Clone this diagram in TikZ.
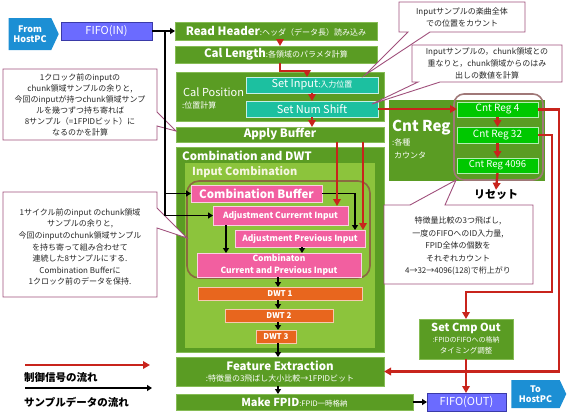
\documentclass[tikz,border=0pt]{standalone}
\usepackage{fontspec}
\setmainfont{Noto Sans CJK JP}
\usetikzlibrary{arrows.meta,shapes.symbols}
\definecolor{mg}{HTML}{5A9C23}
\definecolor{mgb}{HTML}{86BC55}
\definecolor{lg}{HTML}{8CC43C}
\definecolor{teal1}{HTML}{1CC0A0}
\definecolor{pink1}{HTML}{F25FA0}
\definecolor{org}{HTML}{E8661E}
\definecolor{fblue}{HTML}{6B6BFF}
\definecolor{fbord}{HTML}{3A3AA8}
\definecolor{hblue}{HTML}{1C8FD4}
\definecolor{rline}{HTML}{C8241C}
\definecolor{cg}{HTML}{00C800}
\definecolor{mauve}{HTML}{A0507C}
\definecolor{brn}{HTML}{8A6A40}
\definecolor{grpb}{HTML}{A07878}
\definecolor{ictext}{HTML}{F6F6E0}
\newcommand\myfs[2]{\fontsize{#1}{#2}\selectfont}
\tikzset{
 box/.style={anchor=north west, inner sep=0pt, outer sep=0pt, text=white, align=center, line width=0.8pt},
 gbox/.style={box, fill=mg, draw=mgb},
 icbox/.style={box, fill=lg, draw=lg},
 tbox/.style={box, fill=teal1, draw=white!75!teal1},
 pbox/.style={box, fill=pink1, draw=white!70!pink1},
 obox/.style={box, fill=org, draw=white!65!org},
 cbox/.style={box, fill=cg, draw=white!70!cg},
 fbox/.style={box, fill=fblue, draw=fbord, line width=1pt},
 host/.style={signal, signal to=east, signal pointer angle=130, fill=hblue, text=white, align=center, inner sep=1pt, font=\bfseries\myfs{9}{10.5}},
 callout/.style={draw=mauve, fill=white, line width=0.9pt},
 ctext/.style={align=center, text=black!85, font=\myfs{8}{11}},
 redarrow/.style={draw=rline, line width=2.4pt, -{Triangle[length=7pt,width=7.5pt]}},
 blkarrow/.style={draw=black, line width=1.8pt, -{Triangle[length=5pt,width=6pt]}},
 big/.style={font=\bfseries\myfs{11.5}{13}},
 lbl/.style={anchor=west, inner sep=0pt, text=white},
 leg/.style={anchor=west, inner sep=0pt, text=black, font=\bfseries\myfs{10.5}{12}}
}
\begin{document}
\begin{tikzpicture}[x=1pt,y=-1pt]
\useasboundingbox (0,0) rectangle (567,416);

% host and fifo
\node[host, minimum width=50, minimum height=32] (from) at (30,34) {From\\HostPC};
\node[fbox, minimum width=91, minimum height=18, font=\myfs{11}{13}] (fifoin) at (61,22) {FIFO(IN)};

% main column
\node[gbox, minimum width=202, minimum height=18] (rh) at (175,22) {{\bfseries\myfs{11.5}{13}Read Header}{\myfs{8}{10}:ヘッダ（データ長）読み込み}};
\node[gbox, minimum width=202, minimum height=17] (cl) at (175,46) {{\bfseries\myfs{11.5}{13}Cal Length}{\myfs{8}{10}:各領域のパラメタ計算}};
\node[gbox, minimum width=208, minimum height=49] (cp) at (176,72) {};
\node[lbl, font=\myfs{11}{13}] (cpt) at (183,92) {Cal Position};
\node[lbl, font=\myfs{8}{10}] (cpt2) at (182,105) {:位置計算};
\node[tbox, minimum width=132, minimum height=16] (si) at (246,77) {{\myfs{11}{13}Set Input}{\myfs{8}{10}:入力位置}};
\node[tbox, minimum width=132, minimum height=16, font=\myfs{11}{13}] (sns) at (246,101) {Set Num Shift};
\node[gbox, minimum width=208, minimum height=15, big] (ab) at (176,127) {Apply Buffer};

\node[gbox, minimum width=208, minimum height=205] (cdwt) at (176,147) {};
\node[lbl, big] (cdwtt) at (182,156) {Combination and DWT};
\node[icbox, minimum width=189, minimum height=184] (ic) at (185,163) {};
\node[lbl, text=ictext, font=\bfseries\myfs{11}{13}] (ict) at (192,172) {Input Combination};
\draw[brn, line width=1.6pt, rounded corners=12pt] (187,181) rectangle (370,278);
\node[pbox, minimum width=131, minimum height=17, font=\bfseries\myfs{11.5}{13}] (cb) at (191,185) {Combination Buffer};
\node[pbox, minimum width=135, minimum height=19, font=\bfseries\myfs{8.5}{10}] (aci) at (213,206) {Adjustment Currernt Input};
\node[pbox, minimum width=130, minimum height=17, font=\bfseries\myfs{8.5}{10}] (api) at (235,230) {Adjustment Previous Input};
\node[pbox, minimum width=164, minimum height=24, font=\bfseries\myfs{8.5}{11.5}] (comb) at (197,253) {Combinaton\\Current and Previous Input};
\node[obox, minimum width=164, minimum height=13, font=\bfseries\myfs{8}{9}] (dwt1) at (198,287) {DWT 1};
\node[obox, minimum width=108, minimum height=13, font=\bfseries\myfs{8}{9}] (dwt2) at (225,309) {DWT 2};
\node[obox, minimum width=40, minimum height=13, font=\bfseries\myfs{8}{9}] (dwt3) at (256,330) {DWT 3};

\node[gbox, minimum width=208, minimum height=29] (fe) at (176,357) {{\bfseries\myfs{11.5}{13}Feature Extraction}\\[-1pt]{\myfs{8}{9}:特徴量の3飛ばし大小比較→1FPIDビット}};
\node[gbox, minimum width=237, minimum height=16] (mf) at (176,394) {{\bfseries\myfs{11}{13}Make FPID}{\myfs{7.5}{9}:FPID一時格納}};

\node[fbox, minimum width=79, minimum height=18, font=\myfs{11}{13}] (fifoout) at (427,393) {FIFO(OUT)};
\node[host, minimum width=55, minimum height=28] (tohost) at (535.5,394) {To\\HostPC};

% Cnt Reg
\node[gbox, minimum width=155, minimum height=80, draw=mg] (cnt) at (389,100) {};
\node[lbl, font=\bfseries\myfs{15}{17}] (cntt) at (392,128) {Cnt Reg};
\node[lbl, font=\myfs{8}{10}] (cntt2) at (392,142) {:各種};
\node[lbl, font=\myfs{8}{10}] (cntt3) at (394,155) {カウンタ};
\draw[grpb, line width=1.6pt, rounded corners=10pt] (454,94) rectangle (543,180);
\node[cbox, minimum width=81, minimum height=15, font=\myfs{10}{12}] (cr4) at (457,102) {Cnt Reg 4};
\node[cbox, minimum width=81, minimum height=16, font=\myfs{10}{12}] (cr32) at (457,127) {Cnt Reg 32};
\node[cbox, minimum width=81, minimum height=15, font=\myfs{9.5}{11}] (cr4096) at (457,158) {Cnt Reg 4096};
\node[inner sep=0pt, font=\bfseries\myfs{11}{13}] (reset) at (496,195) {リセット};

\node[gbox, minimum width=94, minimum height=40] (sco) at (419,319) {{\bfseries\myfs{11}{13}Set Cmp Out}\\[-1pt]{\myfs{7}{9}:FPIDのFIFOへの格納}\\[-1pt]{\myfs{7.5}{9}タイミング調整}};

% callouts
\draw[callout] (3,69) -- (157,69) -- (157,112) -- (176,131) -- (157,126) -- (157,140) -- (3,140) -- cycle;
\node[ctext] (c1) at (80,104.5) {1クロック前のinputの\\chunk領域サンプルの余りと,\\今回のinputが持つchunk領域サンプ\\ルを幾つずつ持ち寄れば\\8サンプル（=1FPIDビット）に\\なるのかを計算};
\draw[callout] (3,192) -- (157,192) -- (157,208) -- (187,238) -- (157,228) -- (157,297) -- (3,297) -- cycle;
\node[ctext, font=\myfs{8}{11.6}] (c2) at (80,247) {1サイクル前のinput のchunk領域\\サンプルの余りと,\\今回のinputのchunk領域サンプル\\を持ち寄って組み合わせて\\連続した8サンプルにする.\\Combination Bufferに\\1クロック前のデータを保持.};
\draw[callout] (399,2) -- (525,2) -- (525,32) -- (430,32) -- (365,75) -- (408,32) -- (399,32) -- cycle;
\node[ctext, font=\myfs{8}{12}] (c3) at (462,17.5) {Inputサンプルの楽曲全体\\での位置をカウント};
\draw[callout] (412,45) -- (562,45) -- (562,82) -- (440,82) -- (372,104) -- (418,82) -- (412,82) -- cycle;
\node[ctext, font=\myfs{8}{12}] (c4) at (487,63.5) {Inputサンプルの，chunk領域との\\重なりと，chunk領域からのはみ\\出しの数値を計算};
\draw[callout] (384,205) -- (410,205) -- (456,180) -- (445,205) -- (533,205) -- (533,284) -- (384,284) -- cycle;
\node[ctext, font=\myfs{8}{12.5}] (c5) at (458,246) {特徴量比較の3つ飛ばし,\\一度のFIFOへのID入力量,\\FPID全体の個数を\\それぞれカウント\\4→32→4096(128)で桁上がり};

% coordinates
\coordinate (j1) at (165,31);
\coordinate (x280) at (280,0);
\coordinate (x307) at (307,0);
\coordinate (x337) at (337,0);
\coordinate (x363) at (363,0);
\coordinate (x355) at (355,0);
\coordinate (x226) at (226,0);
\coordinate (x302) at (302,0);
\coordinate (x278) at (278,0);
\coordinate (x559) at (559,0);
\coordinate (t1) at (552,292);

% black flow
\draw[blkarrow] (fifoin.east) -- (rh.west);
\draw[draw=black, line width=1.8pt] (j1) -- (165,216);
\draw[blkarrow] (j1) |- (cb.west);
\draw[blkarrow] (j1) |- (aci.west);
\draw[blkarrow] (cb.east) -| (api.north -| x355);
\draw[blkarrow] (aci.south -| x226) -- (comb.north -| x226);
\draw[blkarrow] (api.south -| x302) -- (comb.north -| x302);
\draw[blkarrow] (comb.south -| x278) -- (dwt1.north -| x278);
\draw[blkarrow] (dwt1.south -| x278) -- (dwt2.north -| x278);
\draw[blkarrow] (dwt2.south -| x278) -- (dwt3.north -| x278);
\draw[blkarrow] (dwt3.south -| x278) -- (fe.north -| x278);
\draw[blkarrow] (fe.south -| x278) -- (mf.north -| x278);
\draw[blkarrow] (mf.east) -- (mf.east -| fifoout.west);

% red flow
\draw[redarrow] (rh.south -| x280) -- (cl.north -| x280);
\draw[redarrow] (cl.south -| x280) -- ++(0,8) -| (si.north -| x307);
\draw[redarrow] (si.south) -- (sns.north);
\draw[redarrow] (sns.south) -- (ab.north -| sns.south);
\draw[redarrow] (sns.east) -- (sns.east -| cr4.west);
\draw[redarrow] (ab.south -| x337) -- (aci.north -| x337);
\draw[redarrow] (ab.south -| x363) -- (api.north -| x363);
\draw[redarrow] (cr4.south) -- (cr32.north);
\draw[redarrow] (cr32.south) -- (cr4096.north);
\draw[redarrow] (cr4096.south) -- (reset.north);
\draw[redarrow] (cr4.east) -- (cr4.east -| x559) |- (fe.east);
\draw[redarrow] (cr32.east) -| (t1) -| (sco.north);
\draw[redarrow] (sco.south) -- (fifoout.north -| sco.south);

% legend
\coordinate (la) at (25,365);
\coordinate (lb) at (150,365);
\coordinate (lc) at (25,388);
\coordinate (ld) at (152,388);
\draw[redarrow] (la) -- (lb);
\draw[blkarrow, line width=2.2pt] (lc) -- (ld);
\node[leg] (l1) at (24,377) {制御信号の流れ};
\node[leg] (l2) at (24,402) {サンプルデータの流れ};
\end{tikzpicture}
\end{document}
